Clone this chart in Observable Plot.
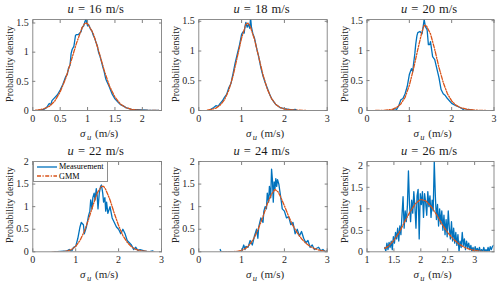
<!DOCTYPE html>
<html><head><meta charset="utf-8">
<script src="https://cdn.jsdelivr.net/npm/d3@7"></script>
<script src="https://cdn.jsdelivr.net/npm/@observablehq/plot@0.6"></script>
<style>
body{margin:0;background:#fff;font-family:"Liberation Serif","Times New Roman",serif;}
#root{position:relative;width:500px;height:287px;overflow:hidden;font-family:"Liberation Serif","Times New Roman",serif;color:#262626;}
#root svg{position:absolute;left:0;top:0;}
#root svg text{font-family:"Liberation Serif","Times New Roman",serif;}
.title{position:absolute;font-size:12.5px;font-weight:normal;word-spacing:1px;white-space:nowrap;transform:translate(-50%,-50%);color:#1a1a1a;}
.ylab{position:absolute;font-size:10px;white-space:nowrap;transform:translate(-50%,-50%) rotate(-90deg);}
.xlab{position:absolute;font-size:11px;white-space:nowrap;transform:translate(-50%,-50%);}
.xlab sub{font-size:8.5px;vertical-align:-3px;margin-left:1.5px;margin-right:1px;}
.legend{position:absolute;background:#fff;border:1px solid #8e8e8e;font-size:8.2px;color:#000;box-sizing:border-box;}
.legend .row{display:flex;align-items:center;height:9.4px;line-height:9.4px;}
.legend svg{position:static !important;margin:0 2px 0 1px;}
</style></head>
<body><div id="root"></div>
<script>
// ---- data: [sigma_u (m/s), probability density] ----
const meas16 = [[0.1,0],[0.2,0.02],[0.25,0.05],[0.3,0.12],[0.33,0.1],[0.35,0.17],[0.4,0.22],[0.45,0.27],[0.5,0.35],[0.55,0.45],[0.6,0.58],[0.63,0.62],[0.65,0.72],[0.68,0.78],[0.7,0.98],[0.72,1.05],[0.75,1.1],[0.78,1.29],[0.8,1.3],[0.83,1.3],[0.85,1.32],[0.88,1.35],[0.9,1.42],[0.93,1.45],[0.95,1.52],[0.97,1.56],[1.0,1.45],[1.02,1.47],[1.05,1.4],[1.08,1.36],[1.1,1.3],[1.13,1.24],[1.15,1.18],[1.18,1.1],[1.2,1.0],[1.23,0.92],[1.25,0.85],[1.28,0.74],[1.3,0.68],[1.33,0.55],[1.35,0.5],[1.38,0.44],[1.4,0.4],[1.45,0.28],[1.5,0.2],[1.55,0.15],[1.6,0.1],[1.65,0.08],[1.7,0.05],[1.8,0.02],[1.9,0.015],[2.0,0.01],[2.1,0.005],[2.3,0]];
const gmm16 = [[0.05,0.005],[0.1,0.01],[0.2,0.03],[0.3,0.07],[0.4,0.16],[0.5,0.32],[0.6,0.55],[0.7,0.85],[0.8,1.16],[0.9,1.42],[0.95,1.5],[1.0,1.49],[1.1,1.33],[1.2,1.03],[1.3,0.7],[1.4,0.42],[1.5,0.23],[1.6,0.11],[1.7,0.05],[1.8,0.02],[1.9,0.01],[2.0,0.004],[2.3,0]];

const meas18 = [[0.25,0],[0.3,0.03],[0.35,0.05],[0.4,0.08],[0.45,0.07],[0.5,0.12],[0.55,0.16],[0.6,0.22],[0.65,0.27],[0.7,0.38],[0.75,0.45],[0.8,0.62],[0.85,0.8],[0.9,0.95],[0.95,1.1],[1.0,1.28],[1.03,1.32],[1.06,1.3],[1.08,1.42],[1.1,1.48],[1.13,1.4],[1.16,1.45],[1.19,1.38],[1.21,1.56],[1.23,1.4],[1.26,1.3],[1.3,1.22],[1.35,1.05],[1.4,0.9],[1.45,0.72],[1.5,0.58],[1.55,0.47],[1.6,0.38],[1.65,0.28],[1.7,0.2],[1.75,0.15],[1.8,0.1],[1.9,0.05],[2.0,0.03],[2.1,0.02],[2.2,0.01],[2.25,0.02],[2.3,0]];
const gmm18 = [[0.2,0.005],[0.3,0.02],[0.4,0.04],[0.5,0.09],[0.6,0.18],[0.7,0.34],[0.8,0.58],[0.9,0.9],[1.0,1.22],[1.1,1.45],[1.15,1.47],[1.2,1.42],[1.3,1.2],[1.4,0.9],[1.5,0.6],[1.6,0.36],[1.7,0.2],[1.8,0.1],[1.9,0.05],[2.0,0.025],[2.2,0.008],[2.5,0]];

const meas20 = [[0.6,0],[0.65,0.03],[0.7,0.02],[0.75,0.08],[0.8,0.18],[0.85,0.2],[0.9,0.28],[0.95,0.4],[1.0,0.6],[1.05,0.7],[1.08,0.65],[1.1,0.78],[1.13,0.95],[1.15,1.1],[1.18,1.25],[1.2,1.3],[1.25,1.32],[1.3,1.28],[1.33,1.42],[1.35,1.52],[1.38,1.4],[1.42,1.35],[1.45,1.1],[1.48,1.1],[1.5,1.15],[1.55,0.9],[1.6,0.85],[1.65,0.7],[1.7,0.55],[1.75,0.35],[1.8,0.28],[1.85,0.25],[1.9,0.2],[2.0,0.12],[2.1,0.08],[2.2,0.05],[2.25,0.03],[2.3,0],[2.4,0.02],[2.5,0]];
const gmm20 = [[0.2,0],[0.4,0.003],[0.6,0.02],[0.7,0.05],[0.8,0.11],[0.9,0.22],[1.0,0.42],[1.1,0.7],[1.2,1.02],[1.3,1.32],[1.35,1.42],[1.4,1.42],[1.5,1.28],[1.6,1.02],[1.7,0.72],[1.8,0.47],[1.9,0.28],[2.0,0.16],[2.1,0.09],[2.2,0.05],[2.4,0.015],[2.6,0.004],[2.8,0]];

const meas22 = [[0.5,0],[0.8,0.02],[0.85,0.05],[0.9,0],[0.95,0.1],[1.0,0.12],[1.05,0.3],[1.1,0.55],[1.13,0.65],[1.18,0.6],[1.2,0.4],[1.25,0.55],[1.3,0.8],[1.33,0.9],[1.35,1.15],[1.38,0.95],[1.4,1.2],[1.43,1.3],[1.45,1.15],[1.48,1.4],[1.5,1.25],[1.52,0.95],[1.55,1.3],[1.58,1.45],[1.6,1.48],[1.63,1.3],[1.65,1.1],[1.68,1.2],[1.7,0.9],[1.72,1.1],[1.75,0.85],[1.8,1.0],[1.85,0.75],[1.9,0.65],[1.95,0.55],[2.0,0.5],[2.05,0.4],[2.1,0.5],[2.15,0.4],[2.2,0.25],[2.25,0.2],[2.3,0.15],[2.35,0.05],[2.4,0.1],[2.45,0.03],[2.5,0.05],[2.6,0.02],[2.7,0],[2.8,0.02]];
const gmm22 = [[0.45,0],[0.7,0.005],[0.8,0.02],[0.9,0.05],[1.0,0.12],[1.1,0.25],[1.2,0.45],[1.3,0.72],[1.4,1.02],[1.5,1.3],[1.6,1.45],[1.65,1.45],[1.7,1.38],[1.8,1.15],[1.9,0.85],[2.0,0.58],[2.1,0.36],[2.2,0.21],[2.3,0.11],[2.4,0.055],[2.5,0.025],[2.7,0.005],[2.85,0]];

const meas24 = [[0.5,0.05],[0.52,0],[1.0,0],[1.05,0.15],[1.08,0.05],[1.1,0.12],[1.15,0.1],[1.2,0.25],[1.25,0.15],[1.3,0.35],[1.35,0.5],[1.38,0.3],[1.4,0.55],[1.45,0.75],[1.5,0.65],[1.52,0.9],[1.55,1.0],[1.58,0.95],[1.6,1.3],[1.63,1.1],[1.65,1.45],[1.68,1.2],[1.7,1.83],[1.72,1.6],[1.74,1.1],[1.76,1.55],[1.78,1.4],[1.8,1.62],[1.82,1.45],[1.84,1.6],[1.87,1.5],[1.9,1.3],[1.93,1.1],[1.95,0.95],[2.0,0.9],[2.05,0.75],[2.1,0.78],[2.15,0.6],[2.2,0.65],[2.25,0.4],[2.3,0.5],[2.35,0.35],[2.4,0.45],[2.45,0.3],[2.5,0.2],[2.55,0.25],[2.6,0.1],[2.65,0.15],[2.7,0.05],[2.8,0.1],[2.85,0.02],[2.9,0.05],[2.95,0],[3.0,0.03]];
const gmm24 = [[0.5,0],[0.8,0.003],[0.9,0.01],[1.0,0.03],[1.1,0.08],[1.2,0.17],[1.3,0.32],[1.4,0.53],[1.5,0.78],[1.6,1.06],[1.7,1.28],[1.78,1.38],[1.85,1.33],[1.9,1.24],[2.0,1.02],[2.1,0.78],[2.2,0.58],[2.3,0.42],[2.4,0.29],[2.5,0.19],[2.6,0.12],[2.7,0.07],[2.8,0.04],[2.9,0.02],[3.0,0.01]];

const meas26 = [[1.33,0.1],[1.35,0.02],[1.37,0.2],[1.39,0.05],[1.41,0.22],[1.43,0.1],[1.45,0.25],[1.47,0.05],[1.49,0.35],[1.51,0.2],[1.53,0.45],[1.55,0.3],[1.57,0.55],[1.59,0.25],[1.61,0.6],[1.63,0.4],[1.65,0.85],[1.67,1.28],[1.69,0.55],[1.71,0.95],[1.73,0.7],[1.75,1.05],[1.77,1.88],[1.79,1.1],[1.81,0.7],[1.83,1.2],[1.85,0.9],[1.87,1.4],[1.89,1.05],[1.91,0.55],[1.93,1.3],[1.95,1.45],[1.97,0.3],[1.99,1.35],[2.01,1.1],[2.03,1.4],[2.05,0.8],[2.07,1.35],[2.09,1.15],[2.11,0.85],[2.13,1.4],[2.15,1.05],[2.17,1.3],[2.19,0.8],[2.21,1.2],[2.23,0.95],[2.25,2.1],[2.27,1.3],[2.29,0.75],[2.31,1.1],[2.33,0.6],[2.35,1.0],[2.37,0.65],[2.39,0.95],[2.41,0.5],[2.43,0.85],[2.45,0.4],[2.47,0.75],[2.49,0.35],[2.51,0.95],[2.53,0.55],[2.55,0.3],[2.57,0.7],[2.59,0.25],[2.61,0.55],[2.63,0.2],[2.65,0.45],[2.67,0.15],[2.69,0.4],[2.71,0],[2.73,0.25],[2.75,0.1],[2.77,0.45],[2.79,0.15],[2.81,0.3],[2.83,0.05],[2.85,0.25],[2.87,0.1],[2.89,0.2],[2.91,0.05],[2.93,0.15],[2.95,0],[2.97,0.1],[2.99,0],[3.01,0.12],[3.03,0.02],[3.05,0.08],[3.07,0],[3.09,0.1],[3.11,0],[3.13,0.05],[3.15,0],[3.17,0.1],[3.19,0],[3.21,0.05],[3.23,0],[3.25,0.1],[3.27,0],[3.29,0.12],[3.31,0.05],[3.33,0.12],[3.35,0.15]];
const gmm26 = [[1.33,0.08],[1.4,0.13],[1.5,0.27],[1.6,0.45],[1.7,0.7],[1.8,0.93],[1.9,1.12],[2.0,1.22],[2.1,1.18],[2.2,1.04],[2.3,0.85],[2.4,0.63],[2.5,0.45],[2.6,0.3],[2.7,0.19],[2.8,0.11],[2.9,0.06],[3.0,0.03],[3.1,0.015],[3.2,0.006],[3.3,0.002]];

const speeds = [16, 18, 20, 22, 24, 26];
const xTicks = {16:[0,0.5,1,1.5,2], 18:[0,1,2,3], 20:[0,1,2,3], 22:[0,1,2,3], 24:[0,1,2,3], 26:[1,1.5,2,2.5,3]};
const yTicks = {16:[0,0.5,1,1.5], 18:[0,0.5,1,1.5], 20:[0,0.5,1,1.5], 22:[0,0.5,1,1.5,2], 24:[0,0.5,1,1.5,2], 26:[0,0.5,1,1.5,2]};
const xLimits = {16:[0,2.35], 18:[0,3], 20:[0,3], 22:[0,3], 24:[0,3], 26:[1,3.36]};
const yLimits = {16:[0,1.56], 18:[0,1.53], 20:[0,1.52], 22:[0,2], 24:[0,2], 26:[0,2.1]};
const measurement = {16:meas16, 18:meas18, 20:meas20, 22:meas22, 24:meas24, 26:meas26};
const gmm = {16:gmm16, 18:gmm18, 20:gmm20, 22:gmm22, 24:gmm24, 26:gmm26};
const seriesNames = ["Measurement", "GMM"];

// ---- layout (frame positions in px) ----
const W = 500, H = 287;
const FONT = '"Liberation Serif","Times New Roman",serif';
const frames = {
  16:{x0:32.3,x1:161,y0:19,y1:110}, 18:{x0:198.3,x1:326.7,y0:19,y1:110}, 20:{x0:366.5,x1:493.5,y0:19,y1:110},
  22:{x0:32.3,x1:161,y0:161,y1:251.3}, 24:{x0:198.3,x1:326.7,y0:161,y1:251.3}, 26:{x0:366.5,x1:493.5,y0:161,y1:251.3}
};
const BLUE = "#0072BD", RED = "#D95319", AXIS = "#808080";
const root = document.getElementById("root");

for (const s of speeds) {
  const f = frames[s];
  const fmt = d => String(d);
  const chart = Plot.plot({
    width: W, height: H,
    marginLeft: f.x0, marginRight: W - f.x1, marginTop: f.y0, marginBottom: H - f.y1,
    x: {domain: xLimits[s]},
    y: {domain: yLimits[s]},
    style: {fontFamily: FONT, fontSize: "10px", color: "#262626", background: "transparent", overflow: "visible"},
    marks: [
      Plot.line(measurement[s], {x: d => d[0], y: d => d[1], stroke: BLUE, strokeWidth: 1.3, clip: true}),
      Plot.line(gmm[s], {x: d => d[0], y: d => d[1], stroke: RED, strokeWidth: 1.3, strokeDasharray: "4,1.5,1.2,1.5", clip: true}),
      Plot.frame({stroke: AXIS, strokeWidth: 0.9}),
      Plot.axisX(xTicks[s], {anchor: "bottom", tickSize: -3, tickPadding: 7, tickFormat: fmt, label: null, stroke: AXIS}),
      Plot.axisX(xTicks[s], {anchor: "top", tickSize: -3, tickPadding: 0, tickFormat: () => "", label: null, stroke: AXIS}),
      Plot.axisY(yTicks[s], {anchor: "left", tickSize: -3, tickPadding: 7, tickFormat: fmt, label: null, stroke: AXIS}),
      Plot.axisY(yTicks[s], {anchor: "right", tickSize: -3, tickPadding: 0, tickFormat: () => "", label: null, stroke: AXIS})
    ]
  });
  root.appendChild(chart);

  const t = document.createElement("div");
  t.className = "title";
  t.innerHTML = `<i>u</i> = ${s} m/s`;
  t.style.left = ((f.x0 + f.x1) / 2 - 1) + "px";
  t.style.top = (f.y0 - 10.5) + "px";
  root.appendChild(t);

  const yl = document.createElement("div");
  yl.className = "ylab";
  yl.textContent = "Probability density";
  yl.style.left = (f.x0 - 23) + "px";
  yl.style.top = ((f.y0 + f.y1) / 2 - 1) + "px";
  root.appendChild(yl);

  const xl = document.createElement("div");
  xl.className = "xlab";
  xl.innerHTML = `<i>σ</i><sub><i>u</i></sub> (m/s)`;
  xl.style.left = ((f.x0 + f.x1) / 2 + 2.5) + "px";
  xl.style.top = (f.y1 + 23.5) + "px";
  root.appendChild(xl);
}

// legend in the u = 22 panel
const lf = frames[22];
const lg = document.createElement("div");
lg.className = "legend";
lg.style.left = (lf.x0 + 0.7) + "px";
lg.style.top = lf.y0 + "px";
lg.style.width = "75px";
lg.style.height = "20.5px";
lg.style.padding = "0.3px 0 0 2px";
const dashes = [null, "4,1.5,1.2,1.5"];
const cols = [BLUE, RED];
seriesNames.forEach((name, i) => {
  const row = document.createElement("div");
  row.className = "row";
  row.innerHTML = `<svg width="20" height="6"><line x1="0" x2="20" y1="3" y2="3" stroke="${cols[i]}" stroke-width="1.3" ${dashes[i] ? `stroke-dasharray="${dashes[i]}"` : ""}/></svg><span>${name}</span>`;
  lg.appendChild(row);
});
root.appendChild(lg);
</script>
</body></html>
